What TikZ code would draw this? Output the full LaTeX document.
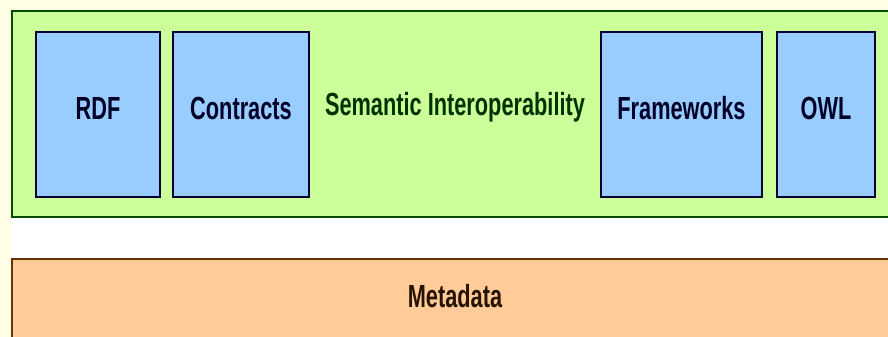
\documentclass[tikz,border=0pt]{standalone}
\usepackage{fontspec}
\newfontfamily\layerfont[FakeStretch=0.68]{Liberation Sans}
\usepackage{tikz}
\usetikzlibrary{positioning}
\definecolor{cream}{HTML}{FFFDE6}
\definecolor{limefill}{HTML}{CCFF99}
\definecolor{skyfill}{HTML}{99CCFF}
\definecolor{peachfill}{HTML}{FFCC99}
\tikzset{
    %Define style for the layer boxes
    layer/.style={
           rectangle,
           draw=black!70!green, line width=2pt,
           inner sep=0pt,
           anchor=north west},
    %Define style for the blue boxes
    blockbox/.style={
           rectangle,
           draw=black!80!blue, line width=2pt,
           fill=skyfill,
           minimum height=165pt,
           inner sep=0pt,
           text height=20pt, text depth=10pt,
           font=\layerfont\bfseries\fontsize{32}{36}\selectfont,
           text=black!85!blue,
           text centered},
    %Define style for plain labels
    caption/.style={
           font=\layerfont\bfseries\fontsize{32}{36}\selectfont,
           inner sep=0pt}
}

\begin{document}
\begin{tikzpicture}[x=1pt,y=-1pt,node distance=12pt]
\useasboundingbox (0,0) rectangle (888,337);
\clip (0,0) rectangle (888,337);
\fill[cream] (0,0) rectangle (888,337);
\fill[white] (11,216) rectangle (888,258);
% the two layers
\node[layer, fill=limefill, minimum width=900pt, minimum height=206pt](sem) at (11,10){};
\node[layer, fill=peachfill, draw=black!60!orange, minimum width=900pt, minimum height=100pt](meta) at (11,258){};
% boxes inside the upper layer
\node[blockbox, minimum width=124pt](rdf) at (98,114.5){RDF};
\node[blockbox, minimum width=136pt, right=11pt of rdf](contracts){Contracts};
\node[blockbox, minimum width=98pt](owl) at (826,114.5){OWL};
\node[blockbox, minimum width=161pt, left=13pt of owl](frameworks){Frameworks};
% labels
\node[caption, text=black!80!green](semlabel) at (455,107){Semantic Interoperability};
\node[caption, text=black!85!orange](metalabel) at (455,296){Metadata};
\end{tikzpicture}
\end{document}
